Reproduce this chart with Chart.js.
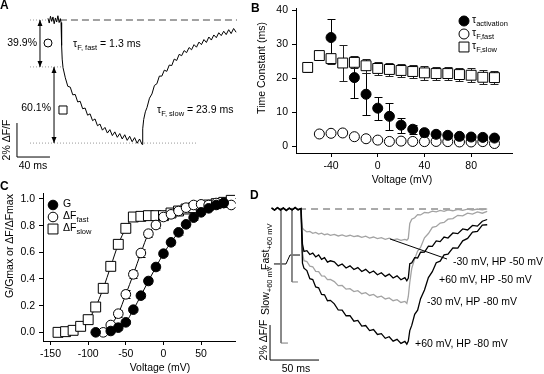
<!DOCTYPE html>
<html>
<head>
<meta charset="utf-8">
<script src="https://cdn.jsdelivr.net/npm/chart.js@4.4.1/dist/chart.umd.min.js"></script>
<style>
  body { margin: 0; background: #fff; }
  #fig { position: relative; width: 544px; height: 374px; overflow: hidden; background: #fff; }
  #fig canvas { position: absolute; }
</style>
</head>
<body>
<div id="fig">
  <canvas id="chartA" width="250" height="180" style="left:0;top:0"></canvas>
  <canvas id="chartB" width="294" height="190" style="left:250px;top:0"></canvas>
  <canvas id="chartC" width="250" height="194" style="left:0;top:180px"></canvas>
  <canvas id="chartD" width="294" height="184" style="left:250px;top:190px"></canvas>
</div>
<script>
const FONT = '"Liberation Sans", Arial, sans-serif';
Chart.defaults.font.family = FONT;
Chart.defaults.font.size = 10.5;
Chart.defaults.color = '#000';

// ---------- panel A : fluorescence trace (ms, % dF/F)
const traceATime = [0,1.5,3,4.5,6,7.5,9,10.5,12,13.5,15,15.8,16.5,17.2,18.2,
  21,24,27,30,33,36,39,42,45,48,51,54,57,60,63,66,69,72,75,78,81,84,87,90,93,96,99,102,105,108,111,114,
  114.8,116,118,120,123,126,129,132,135,138,141,144,147,150,153,156,159,162,165,168,171,174,177,180,
  183,186,189,192,195,198,201,204,207,210,213,216,219,222,225,228];
const traceAValue = [0.1,-0.18,0.22,-0.08,0.18,-0.22,0.12,-0.12,0.25,-0.15,0.08,-0.15,-1.5,-2.3,-2.8,
  -3.4,-3.9,-3.95,-4.4,-4.38,-4.82,-4.78,-5.22,-5.18,-5.6,-5.52,-5.92,-5.82,-6.22,-6.12,-6.48,-6.32,-6.65,
  -6.45,-6.8,-6.58,-6.9,-6.68,-7.0,-6.75,-7.08,-6.84,-7.16,-6.92,-7.25,-7.0,-7.32,
  -6.4,-5.85,-5.4,-5.15,-4.6,-4.35,-3.85,-3.75,-3.3,-3.3,-2.95,-3.02,-2.65,-2.68,-2.3,-2.38,-2.02,-2.1,
  -1.8,-1.92,-1.62,-1.75,-1.45,-1.6,-1.3,-1.45,-1.15,-1.32,-1.0,-1.18,-0.88,-1.04,-0.75,-0.92,-0.66,
  -0.86,-0.57,-0.8,-0.5,-0.72];
const aLevels = { base: 0, fast: -2.76, slow: -7.24 };

// ---------- panel B : time constants vs voltage
const tauVolt = [-60,-50,-40,-30,-20,-10,0,10,20,30,40,50,60,70,80,90,100];
const tauSlow = [23.2,26.7,25.8,24.5,24.7,23.7,22.9,22.6,22.3,22.0,21.6,21.4,21.4,21.1,20.9,20.3,20.2];
const tauSlowErr = [1.2,1.0,1.5,5.2,1.8,2.0,2.0,2.0,2.0,2.0,2.0,2.0,2.0,2.0,2.0,2.0,2.0];
const actVolt = [-40,-20,-10,0,10,20,30,40,50,60,70,80,90,100];
const tauAct = [32.0,20.2,15.3,11.2,8.8,6.2,5.0,4.0,3.5,3.2,2.9,2.7,2.6,2.4];
const tauActErr = [5.4,6.1,6.2,3.4,3.9,2.2,1.3,1.1,0.9,0.8,0.6,0.5,0.5,0.5];
const fastVolt = [-50,-40,-30,-20,-10,0,10,20,30,40,50,60,70,80,90,100];
const tauFast = [3.6,3.8,3.9,2.8,2.2,1.8,1.4,1.5,1.4,1.35,1.4,1.35,1.25,1.25,1.35,0.8];
const bTicksX = [-40,0,40,80];
const bTicksY = [0,10,20,30,40];

// ---------- panel C : normalised G and dF vs voltage
const gVolt = [-90,-70,-60,-50,-40,-30,-20,-10,0,10,20,30,40,50,60,70,80];
const gNorm = [0.0,0.01,0.035,0.075,0.17,0.275,0.385,0.49,0.59,0.675,0.75,0.81,0.86,0.9,0.93,0.955,0.97];
const gErr = [0.01,0.01,0.015,0.015,0.02,0.02,0.02,0.02,0.02,0.02,0.02,0.02,0.015,0.015,0.015,0.015,0.015];
const dfFastVolt = [-80,-70,-60,-50,-40,-30,-20,-10,0,10,20,30,40,50,60,70,80,90];
const dfFast = [0.0,0.055,0.14,0.285,0.435,0.595,0.74,0.805,0.865,0.885,0.91,0.935,0.955,0.96,0.955,0.97,0.97,0.955];
const dfFastErr = [0.01,0.015,0.025,0.03,0.03,0.03,0.025,0.02,0.015,0.015,0.015,0.015,0.015,0.015,0.015,0.015,0.015,0.015];
const dfSlowVolt = [-140,-130,-120,-110,-100,-90,-80,-70,-60,-50,-40,-30,-20,-10,0,10,20,30,40,50,60,70,80,90];
const dfSlow = [0.0,0.005,0.015,0.045,0.095,0.19,0.33,0.495,0.66,0.78,0.865,0.87,0.875,0.875,0.875,0.895,0.91,0.925,0.935,0.945,0.955,0.965,0.975,0.99];
const dfSlowErr = [0.01,0.01,0.01,0.02,0.025,0.025,0.03,0.03,0.03,0.025,0.02,0.015,0.015,0.015,0.015,0.015,0.015,0.015,0.015,0.015,0.015,0.015,0.015,0.015];
const cTicksX = [-150,-100,-50,0,50];
const cTicksY = [0,0.2,0.4,0.6,0.8,1.0];

// ---------- panel D : four traces on a shared time base (ms, % dF/F)
const traceDTime = [-30,-27,-24,-21,-18,-15,-12,-9,-6,-3,0,1.5,3,6,9,12,15,18,21,24,27,30,
  34,38,42,46,50,54,58,62,66,70,74,78,82,86,90,94,98,102,106,108,
  109.5,111,113,116,119,122,126,130,134,138,142,146,150,155,160,165,170,175,180,185,190];
const m30hp50 = [0.04,-0.05,0.06,-0.03,0.05,-0.06,0.03,-0.04,0.06,-0.02,0.02,
  -1.1,-1.18,-1.31,-1.28,-1.39,-1.34,-1.43,-1.38,-1.47,-1.42,-1.51,
  -1.45,-1.54,-1.48,-1.56,-1.5,-1.58,-1.53,-1.62,-1.55,-1.66,-1.6,-1.69,-1.64,-1.73,-1.67,-1.76,-1.71,-1.79,-1.74,-1.78,
  -1.68,-0.82,-0.58,-0.5,-0.32,-0.34,-0.2,-0.22,-0.12,-0.16,-0.08,-0.13,-0.05,-0.1,-0.02,-0.08,-0.01,-0.06,0.0,-0.05,0.01];
const p60hp50 = [0.06,-0.07,0.08,-0.05,0.07,-0.08,0.05,-0.06,0.09,-0.04,0.03,
  -2.0,-2.42,-2.38,-2.6,-2.52,-2.74,-2.62,-2.88,-2.78,-3.04,-2.96,
  -3.02,-3.25,-3.14,-3.37,-3.25,-3.46,-3.35,-3.57,-3.45,-3.66,-3.54,-3.76,-3.64,-3.85,-3.72,-3.94,-3.82,-4.04,-3.92,-4.1,
  -3.95,-3.12,-3.08,-2.78,-2.8,-2.47,-2.46,-2.12,-2.13,-1.82,-1.86,-1.6,-1.66,-1.37,-1.41,-1.14,-1.2,-0.94,-0.98,-0.7,-0.6];
const m30hp80 = [0.03,-0.05,0.05,-0.02,0.04,-0.05,0.02,-0.04,0.05,-0.03,0.01,
  -2.5,-2.95,-3.0,-3.26,-3.3,-3.56,-3.58,-3.82,-3.83,-4.04,-4.03,
  -4.15,-4.38,-4.37,-4.58,-4.55,-4.72,-4.67,-4.84,-4.78,-4.94,-4.88,-5.04,-4.98,-5.14,-5.08,-5.24,-5.18,-5.34,-5.28,-5.4,
  -5.0,-4.2,-3.4,-2.85,-2.4,-2.2,-1.65,-1.4,-1.05,-1.0,-0.8,-0.77,-0.58,-0.55,-0.36,-0.39,-0.24,-0.29,-0.17,-0.24,-0.14];
const p60hp80 = [0.07,-0.06,0.08,-0.07,0.05,-0.09,0.06,-0.05,0.08,-0.06,0.02,
  -3.1,-3.38,-3.52,-3.98,-4.03,-4.45,-4.5,-4.88,-4.9,-5.24,-5.22,
  -5.42,-5.77,-5.78,-6.1,-6.09,-6.41,-6.37,-6.69,-6.66,-6.95,-6.89,-7.17,-7.12,-7.39,-7.3,-7.55,-7.45,-7.68,-7.56,-7.72,
  -7.55,-6.95,-6.65,-6.02,-5.78,-5.12,-4.63,-3.92,-3.58,-3.07,-2.98,-2.62,-2.58,-2.22,-2.23,-1.82,-1.68,-1.32,-1.28,-0.92,-0.9];
// voltage protocol sketches on the left of panel D
const protoSlowT = [-20.4,-20.4,-13.3];
const protoSlowV = [0.06,-7.66,-7.66];
const protoFastT = [-9.2,-9.2,-3.1];
const protoFastV = [0.06,-4.17,-4.17];
const protoStepT = [-27.6,-15.3,-11.2,-1];
const protoStepV = [-3.14,-3.14,-2.63,-2.63];

// ---------- helpers
const pts = (xs, ys) => xs.map((x, i) => ({ x: x, y: ys[i] }));
const lineDs = (data, color, width, extra) => Object.assign(
  { data: data, showLine: true, borderColor: color, borderWidth: width, pointRadius: 0, tension: 0, fill: false }, extra || {});

function rich(ctx, x, y, parts, align) {
  const main = '10.5px ' + FONT, sub = '7.5px ' + FONT;
  let w = 0;
  parts.forEach(p => { ctx.font = p[1] ? sub : main; w += ctx.measureText(p[0]).width; });
  let cx = align === 'right' ? x - w : align === 'center' ? x - w / 2 : x;
  ctx.textAlign = 'left';
  ctx.textBaseline = 'middle';
  ctx.fillStyle = '#000';
  parts.forEach(p => {
    ctx.font = p[1] ? sub : main;
    ctx.fillText(p[0], cx, p[1] ? y + 4 : y);
    cx += ctx.measureText(p[0]).width;
  });
}
function rotRich(ctx, x, y, parts, align) {
  ctx.save(); ctx.translate(x, y); ctx.rotate(-Math.PI / 2);
  rich(ctx, 0, 0, parts, align || 'left');
  ctx.restore();
}
function marker(ctx, style, x, y, r, fill) {
  ctx.beginPath();
  if (style === 'rect') { const h = r * Math.SQRT1_2; ctx.rect(x - h, y - h, 2 * h, 2 * h); }
  else ctx.arc(x, y, r, 0, Math.PI * 2);
  ctx.fillStyle = fill; ctx.fill();
  ctx.lineWidth = 1; ctx.strokeStyle = '#000'; ctx.stroke();
}
function seg(ctx, x1, y1, x2, y2, color) {
  ctx.beginPath(); ctx.moveTo(x1, y1); ctx.lineTo(x2, y2);
  ctx.strokeStyle = color || '#000'; ctx.lineWidth = 1; ctx.stroke();
}
function vArrow(ctx, x, y1, y2) {
  seg(ctx, x, y1, x, y2);
  [[y1, 1], [y2, -1]].forEach(([y, d]) => {
    ctx.beginPath(); ctx.moveTo(x, y); ctx.lineTo(x - 2.5, y + d * 6); ctx.lineTo(x + 2.5, y + d * 6);
    ctx.closePath(); ctx.fillStyle = '#000'; ctx.fill();
  });
}
function panelLetter(ctx, letter, x, y) {
  ctx.font = 'bold 12px ' + FONT; ctx.fillStyle = '#000';
  ctx.textAlign = 'left'; ctx.textBaseline = 'alphabetic';
  ctx.fillText(letter, x, y);
}
function axis(min, max, ticks, size, pos, fmt) {
  return {
    type: 'linear', position: pos, min: min, max: max,
    afterBuildTicks: s => { s.ticks = ticks.map(v => ({ value: v })); },
    afterFit: s => {
      if (pos === 'left') s.width = size; else s.height = size;
      s.paddingTop = 0; s.paddingBottom = 0; s.paddingLeft = 0; s.paddingRight = 0;
    },
    grid: { drawOnChartArea: false, tickLength: 4, color: '#000', lineWidth: 1 },
    border: { color: '#000', width: 1 },
    ticks: { padding: pos === 'left' ? 4 : 3, color: '#000', font: { size: 10.5 },
      autoSkip: false, maxRotation: 0, callback: fmt }
  };
}
function hidden(min, max) { return { type: 'linear', display: false, min: min, max: max }; }
function options(scales, padding) {
  return {
    responsive: false, animation: false, devicePixelRatio: 1, events: [],
    layout: { padding: padding },
    plugins: { legend: { display: false }, tooltip: { enabled: false } },
    scales: scales
  };
}

const errorBarPlugin = {
  id: 'errorBars',
  beforeDatasetsDraw(chart) {
    const ctx = chart.ctx, sx = chart.scales.x, sy = chart.scales.y;
    chart.data.datasets.forEach(ds => {
      if (!ds.errorBars) return;
      ctx.save();
      ctx.strokeStyle = ds.errorColor || '#000';
      ctx.lineWidth = 1;
      ds.data.forEach((p, i) => {
        const e = ds.errorBars[i];
        if (!e) return;
        const px = Math.round(sx.getPixelForValue(p.x)) + 0.5;
        const top = Math.round(sy.getPixelForValue(p.y + e)) + 0.5;
        const bot = Math.round(sy.getPixelForValue(p.y - e)) + 0.5;
        ctx.beginPath();
        ctx.moveTo(px, top); ctx.lineTo(px, bot);
        ctx.moveTo(px - 4, top); ctx.lineTo(px + 4, top);
        ctx.moveTo(px - 4, bot); ctx.lineTo(px + 4, bot);
        ctx.stroke();
      });
      ctx.restore();
    });
  }
};

// ---------- A
new Chart(document.getElementById('chartA'), {
  type: 'scatter',
  data: { datasets: [
    lineDs(pts(traceATime, traceAValue), '#000', 1),
    lineDs([{ x: 14.5, y: aLevels.base }, { x: 229, y: aLevels.base }], '#444', 1, { borderDash: [7, 4] }),
    lineDs([{ x: -21.8, y: aLevels.base }, { x: 0, y: aLevels.base }], '#999', 1, { borderDash: [1, 2] }),
    lineDs([{ x: -21.8, y: aLevels.fast }, { x: 17, y: aLevels.fast }], '#999', 1, { borderDash: [1, 2] }),
    lineDs([{ x: -21.8, y: aLevels.slow }, { x: 181, y: aLevels.slow }], '#999', 1, { borderDash: [1, 2] })
  ] },
  options: options({ x: hidden(-58.18, 244.85), y: hidden(-9.4118, 1.1765) }, 0),
  plugins: [{
    id: 'annA',
    afterDraw(chart) {
      const c = chart.ctx, X = v => chart.scales.x.getPixelForValue(v), Y = v => chart.scales.y.getPixelForValue(v);
      panelLetter(c, 'A', 0, 9);
      vArrow(c, X(-9.7), Y(aLevels.base), Y(aLevels.fast));
      vArrow(c, X(7.3), Y(aLevels.fast), Y(aLevels.slow));
      rich(c, 37, 43, [['39.9%', 0]], 'right');
      rich(c, 51, 108, [['60.1%', 0]], 'right');
      marker(c, 'circle', 48, 43, 4, '#fff');
      marker(c, 'rect', 63, 110, 5.7, '#fff');
      rich(c, 73, 44, [['\u03c4', 0], ['F, fast', 1], [' = 1.3 ms', 0]], 'left');
      rich(c, 157, 110, [['\u03c4', 0], ['F, slow', 1], [' = 23.9 ms', 0]], 'left');
      // scale bar: 40 ms x 2 % dF/F
      const x0 = X(-37.6), y0 = Y(-8.06);
      seg(c, x0, y0, X(-37.6 + 40), y0);
      seg(c, x0, y0, x0, Y(-8.06 + 2));
      rich(c, 33, 166, [['40 ms', 0]], 'center');
      rotRich(c, 7, 140, [['2% \u0394F/F', 0]], 'center');
    }
  }]
});

// ---------- B
new Chart(document.getElementById('chartB'), {
  type: 'scatter',
  data: { datasets: [
    { data: pts(actVolt, tauAct), errorBars: tauActErr, pointStyle: 'circle', pointRadius: 5,
      backgroundColor: '#000', borderColor: '#000', borderWidth: 1, order: 0 },
    { data: pts(fastVolt, tauFast), pointStyle: 'circle', pointRadius: 5,
      backgroundColor: '#fff', borderColor: '#000', borderWidth: 1, order: 1 },
    { data: pts(tauVolt, tauSlow), errorBars: tauSlowErr, errorColor: '#222', pointStyle: 'rect', pointRadius: 7,
      backgroundColor: '#fff', borderColor: '#000', borderWidth: 1, order: 2 }
  ] },
  options: options({
    x: axis(-70, 115, bTicksX, 37, 'bottom', v => String(v)),
    y: axis(-2, 40.7, bTicksY, 46, 'left', v => String(v))
  }, { left: 0, right: 32, top: 5, bottom: 0 }),
  plugins: [errorBarPlugin, {
    id: 'annB',
    afterDraw(chart) {
      const c = chart.ctx;
      panelLetter(c, 'B', 1, 12);
      rotRich(c, 12, 68, [['Time Constant (ms)', 0]], 'center');
      rich(c, 152, 180, [['Voltage (mV)', 0]], 'center');
      marker(c, 'circle', 214, 21, 5, '#000');
      marker(c, 'circle', 214, 34, 5, '#fff');
      marker(c, 'rect', 214, 47, 7, '#fff');
      rich(c, 222, 20, [['\u03c4', 0], ['activation', 1]], 'left');
      rich(c, 222, 33, [['\u03c4', 0], ['F,fast', 1]], 'left');
      rich(c, 222, 46, [['\u03c4', 0], ['F,slow', 1]], 'left');
    }
  }]
});

// ---------- C
new Chart(document.getElementById('chartC'), {
  type: 'scatter',
  data: { datasets: [
    lineDs(pts(dfSlowVolt, dfSlow), '#000', 1, { cubicInterpolationMode: 'monotone', order: 5 }),
    lineDs(pts(dfFastVolt, dfFast), '#000', 1, { cubicInterpolationMode: 'monotone', order: 5 }),
    lineDs(pts(gVolt, gNorm), '#000', 1, { cubicInterpolationMode: 'monotone', order: 5 }),
    { data: pts(gVolt, gNorm), errorBars: gErr, errorColor: '#888', pointStyle: 'circle', pointRadius: 4.8,
      backgroundColor: '#000', borderColor: '#000', borderWidth: 1, order: 0 },
    { data: pts(dfFastVolt, dfFast), errorBars: dfFastErr, pointStyle: 'circle', pointRadius: 4.8,
      backgroundColor: '#fff', borderColor: '#000', borderWidth: 1, order: 1 },
    { data: pts(dfSlowVolt, dfSlow), errorBars: dfSlowErr, pointStyle: 'rect', pointRadius: 7,
      backgroundColor: '#fff', borderColor: '#000', borderWidth: 1, order: 2 }
  ] },
  options: options({
    x: axis(-160, 95, cTicksX, 33, 'bottom', v => String(v)),
    y: axis(-0.065, 1.045, cTicksY, 43, 'left', v => Number(v).toFixed(1))
  }, { left: 0, right: 15, top: 13, bottom: 0 }),
  plugins: [errorBarPlugin, {
    id: 'annC',
    afterDraw(chart) {
      const c = chart.ctx;
      panelLetter(c, 'C', 0, 10);
      rotRich(c, 10, 66, [['G/Gmax or \u0394F/\u0394Fmax', 0]], 'center');
      rich(c, 160, 188, [['Voltage (mV)', 0]], 'center');
      marker(c, 'circle', 53, 25, 4.8, '#000');
      marker(c, 'circle', 53, 37, 4.8, '#fff');
      marker(c, 'rect', 53, 49, 7, '#fff');
      rich(c, 63, 24, [['G', 0]], 'left');
      rich(c, 63, 36, [['\u0394F', 0], ['fast', 1]], 'left');
      rich(c, 63, 48, [['\u0394F', 0], ['slow', 1]], 'left');
    }
  }]
});

// ---------- D
new Chart(document.getElementById('chartD'), {
  type: 'scatter',
  data: { datasets: [
    lineDs(pts(traceDTime, p60hp50), '#000', 1.3, { order: 0 }),
    lineDs(pts(traceDTime, p60hp80), '#000', 1.3, { order: 0 }),
    lineDs(pts(traceDTime, m30hp50), '#a3a3a3', 1.3, { order: 1 }),
    lineDs(pts(traceDTime, m30hp80), '#a3a3a3', 1.3, { order: 1 }),
    lineDs([{ x: -2, y: 0 }, { x: 190, y: 0 }], '#555', 1, { borderDash: [7, 5], order: 2 }),
    lineDs(pts(protoSlowT, protoSlowV), '#7a7a7a', 1, { order: 3 }),
    lineDs(pts(protoFastT, protoFastV), '#7a7a7a', 1, { order: 3 }),
    lineDs(pts(protoStepT, protoStepV), '#000', 1, { order: 3 })
  ] },
  options: options({ x: hidden(-52.04, 247.96), y: hidden(-9.428, 1.0857) }, 0),
  plugins: [{
    id: 'annD',
    afterDraw(chart) {
      const c = chart.ctx, X = v => chart.scales.x.getPixelForValue(v), Y = v => chart.scales.y.getPixelForValue(v);
      panelLetter(c, 'D', 0, 9);
      rotRich(c, 16, 80, [['Fast', 0], ['+60 mV', 1]]);
      rotRich(c, 16, 125, [['Slow', 0], ['+60 mV', 1]]);
      rotRich(c, 14, 150, [['2% \u0394F/F', 0]], 'center');
      const x0 = X(-31.6), y0 = Y(-8.63);
      seg(c, x0, y0, X(-31.6 + 50), y0);
      seg(c, x0, y0, x0, Y(-8.63 + 2));
      rich(c, 46, 179, [['50 ms', 0]], 'center');
      seg(c, X(90.8), Y(-1.71), 197, 69);
      rich(c, 203, 72, [['-30 mV, HP -50 mV', 0]], 'left');
      rich(c, 189, 90, [['+60 mV, HP -50 mV', 0]], 'left');
      rich(c, 177, 112, [['-30 mV, HP -80 mV', 0]], 'left');
      rich(c, 165, 154, [['+60 mV, HP -80 mV', 0]], 'left');
    }
  }]
});
</script>
</body>
</html>
